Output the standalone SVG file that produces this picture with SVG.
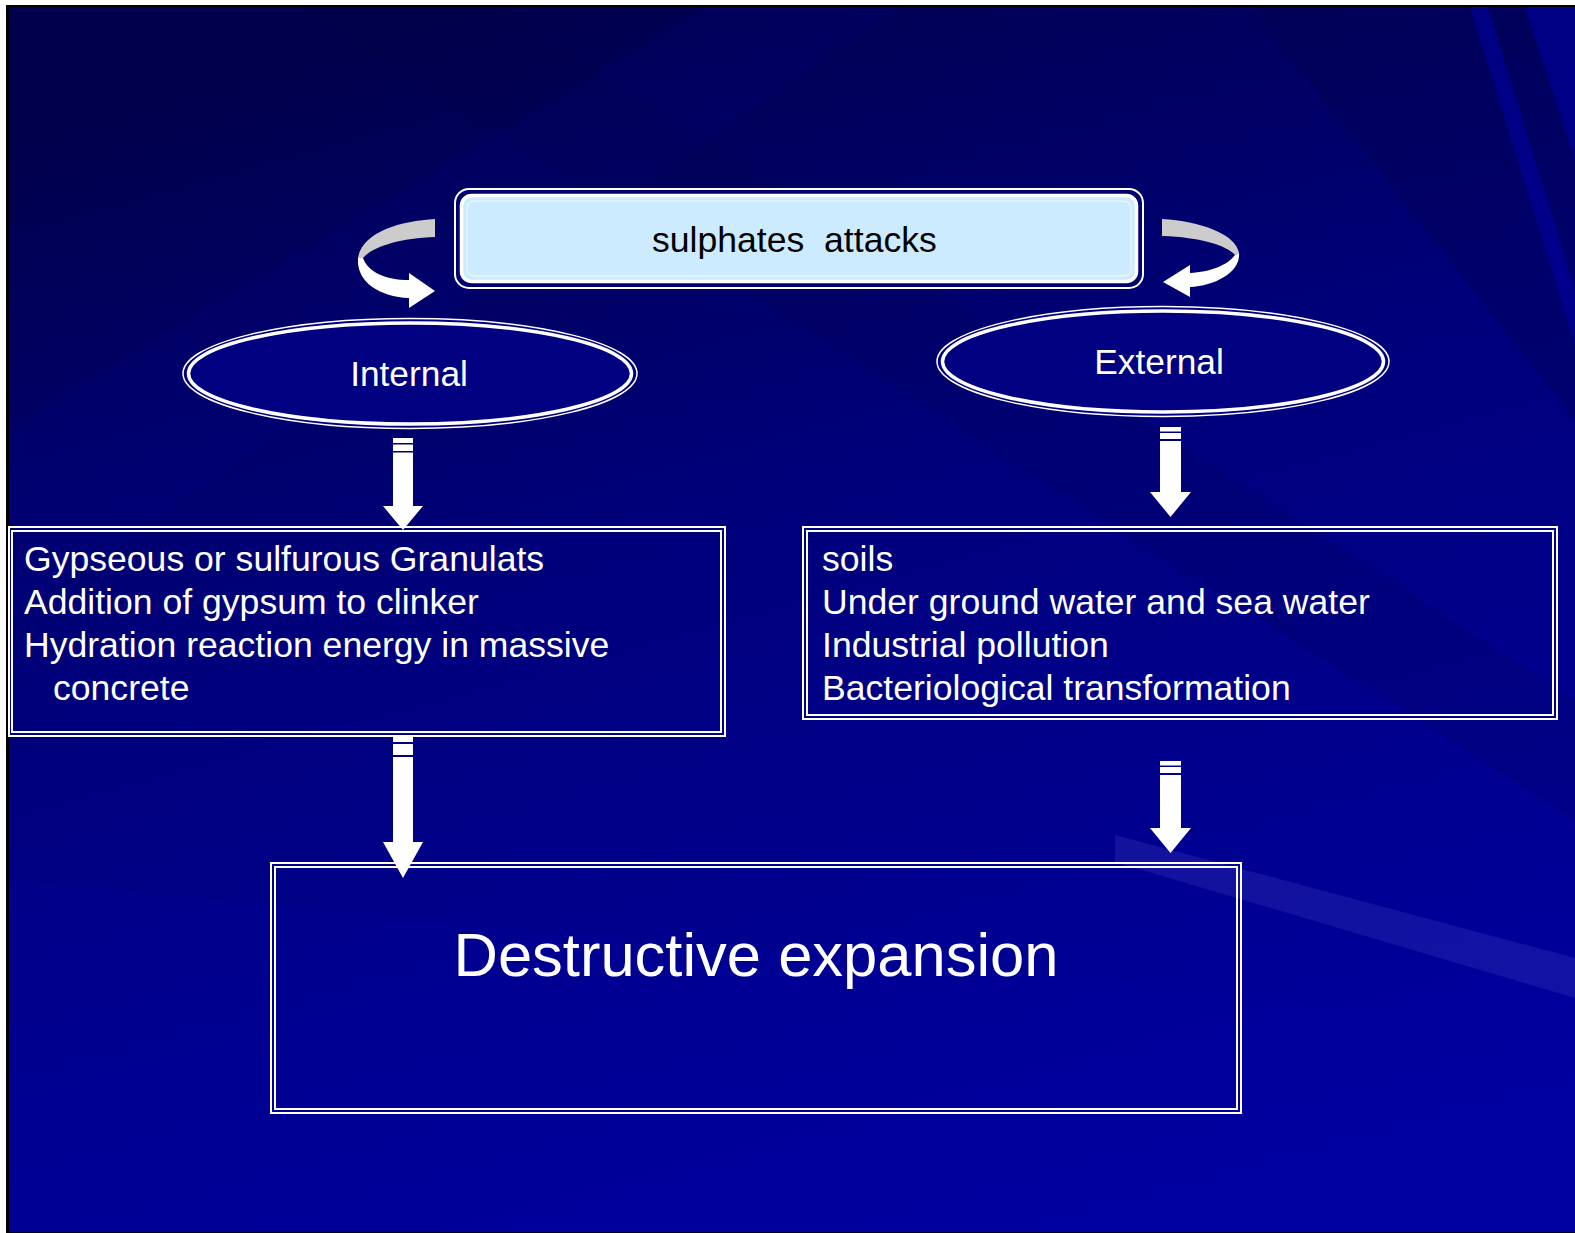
<svg xmlns="http://www.w3.org/2000/svg" width="1575" height="1233" viewBox="0 0 1575 1233">
<defs>
<linearGradient id="bg" x1="0.3" y1="0" x2="0.65" y2="1">
<stop offset="0" stop-color="#00004C"/>
<stop offset="0.4" stop-color="#00007A"/>
<stop offset="1" stop-color="#0000A0"/>
</linearGradient>
<style>
.t{font-family:"Liberation Sans",Arial,sans-serif;fill:#fff}
.dbl{fill:none;stroke:#fff;stroke-width:2}
.arr{fill:#fff}
</style>
</defs>
<rect width="1575" height="1233" fill="#fff"/>
<rect x="6" y="5" width="1569" height="1228" fill="#000"/>
<rect x="9" y="7" width="1566" height="1225" fill="url(#bg)"/>
<g id="background-rays">
<polygon points="9,430 700,7 900,7 9,620" fill="#0000A0" opacity="0.12"/>
<polygon points="300,7 500,7 1575,700 1575,820" fill="#000040" opacity="0.15"/>
<polygon points="1250,7 1575,7 1575,420" fill="#000040" opacity="0.25"/>
<polygon points="1470,7 1488,7 1575,290 1575,345" fill="#0000A0" opacity="0.6"/>
<polygon points="1525,7 1575,7 1575,160" fill="#0000A0" opacity="0.6"/>
<polygon points="1115,835 1575,958 1575,998 1115,862" fill="#3434B8" opacity="0.35"/>
<polygon points="9,880 1575,1030 1575,1233 9,1233" fill="#0000A0" opacity="0.2"/>
</g>
<g id="connectors">
<g id="curve-left">
<path d="M435,219 C400,221 362,232 358,258 L363,258 C372,247 400,238 435,237 Z" fill="#CCCCCC"/>
<path d="M358,258 C356,282 380,297 409,298 L409,308 L435,291 L409,273 L409,280 C385,280 368,272 363,258 Z" fill="#fff"/>
</g>
<g id="curve-right">
<path d="M1162,219 C1200,221 1236,234 1239,253 L1235,255 C1228,246 1200,237 1162,236 Z" fill="#CCCCCC"/>
<path d="M1239,253 C1241,272 1215,286 1190,287 L1190,297 L1163,282 L1190,265 L1190,273 C1210,272 1228,265 1235,255 Z" fill="#fff"/>
</g>
<g id="arrow-internal">
<rect class="arr" x="393" y="438" width="20" height="5"/>
<rect class="arr" x="393" y="444.5" width="20" height="6.5"/>
<polygon class="arr" points="393,452.5 413,452.5 413,506 423,506 403,530 383,506 393,506"/>
</g>
<g id="arrow-internal-2">
<rect class="arr" x="393" y="735" width="20" height="7"/>
<rect class="arr" x="393" y="744" width="20" height="11"/>
<polygon class="arr" points="393,757 413,757 413,842 423,842 403,878 383,842 393,842"/>
</g>
<g id="arrow-external">
<rect class="arr" x="1160" y="427" width="21" height="4.5"/>
<rect class="arr" x="1160" y="433" width="21" height="6"/>
<polygon class="arr" points="1160,441 1181,441 1181,492 1191,492 1170.5,517 1150,492 1160,492"/>
</g>
<g id="arrow-external-2">
<rect class="arr" x="1160" y="761" width="21" height="4.5"/>
<rect class="arr" x="1160" y="767" width="21" height="6"/>
<polygon class="arr" points="1160,775 1181,775 1181,828 1191,828 1170.5,853 1150,828 1160,828"/>
</g>
</g>
<g id="node-sulphates">
<rect x="455" y="189" width="688" height="99" rx="14" fill="#000070" stroke="#fff" stroke-width="2"/>
<rect x="461.5" y="195.5" width="675" height="86" rx="10" fill="#CCEBFF" stroke="#fff" stroke-width="3.5"/>
<rect x="467" y="201" width="664" height="75" rx="7" fill="none" stroke="#E6F5FF" stroke-width="1.5"/>
<text class="t" x="652" y="252" font-size="35.6" style="fill:#000;white-space:pre">sulphates  attacks</text>
</g>
<g id="node-internal">
<ellipse cx="410" cy="373.5" rx="227" ry="55" fill="#000080" stroke="#fff" stroke-width="1.5"/>
<ellipse cx="410" cy="373.5" rx="221.5" ry="50.5" fill="#000080" stroke="#fff" stroke-width="3.5"/>
<text class="t" x="409" y="386" font-size="35.3" text-anchor="middle">Internal</text>
</g>
<g id="node-external">
<ellipse cx="1163" cy="361.5" rx="226" ry="55" fill="#000080" stroke="#fff" stroke-width="1.5"/>
<ellipse cx="1163" cy="361.5" rx="220.5" ry="50.5" fill="#000080" stroke="#fff" stroke-width="3.5"/>
<text class="t" x="1159" y="374" font-size="35.3" text-anchor="middle">External</text>
</g>
<g id="node-internal-causes">
<rect class="dbl" x="9" y="527" width="716" height="209"/>
<rect class="dbl" x="12" y="531" width="709" height="201"/>
<text class="t" font-size="35.6">
<tspan x="24" y="571">Gypseous or sulfurous Granulats</tspan>
<tspan x="24" y="614">Addition of gypsum to clinker</tspan>
<tspan x="24" y="657">Hydration reaction energy in massive</tspan>
<tspan x="53" y="700">concrete</tspan>
</text>
</g>
<g id="node-external-causes">
<rect class="dbl" x="803" y="527" width="754" height="192"/>
<rect class="dbl" x="807" y="531" width="746" height="184"/>
<text class="t" font-size="35.6">
<tspan x="822" y="571">soils</tspan>
<tspan x="822" y="614">Under ground water and sea water</tspan>
<tspan x="822" y="657">Industrial pollution</tspan>
<tspan x="822" y="700">Bacteriological transformation</tspan>
</text>
</g>
<g id="node-destructive">
<rect class="dbl" x="271" y="863" width="970" height="250"/>
<rect class="dbl" x="275" y="867" width="962" height="242"/>
<text class="t" x="756" y="976" font-size="61.5" text-anchor="middle">Destructive expansion</text>
</g>
</svg>
